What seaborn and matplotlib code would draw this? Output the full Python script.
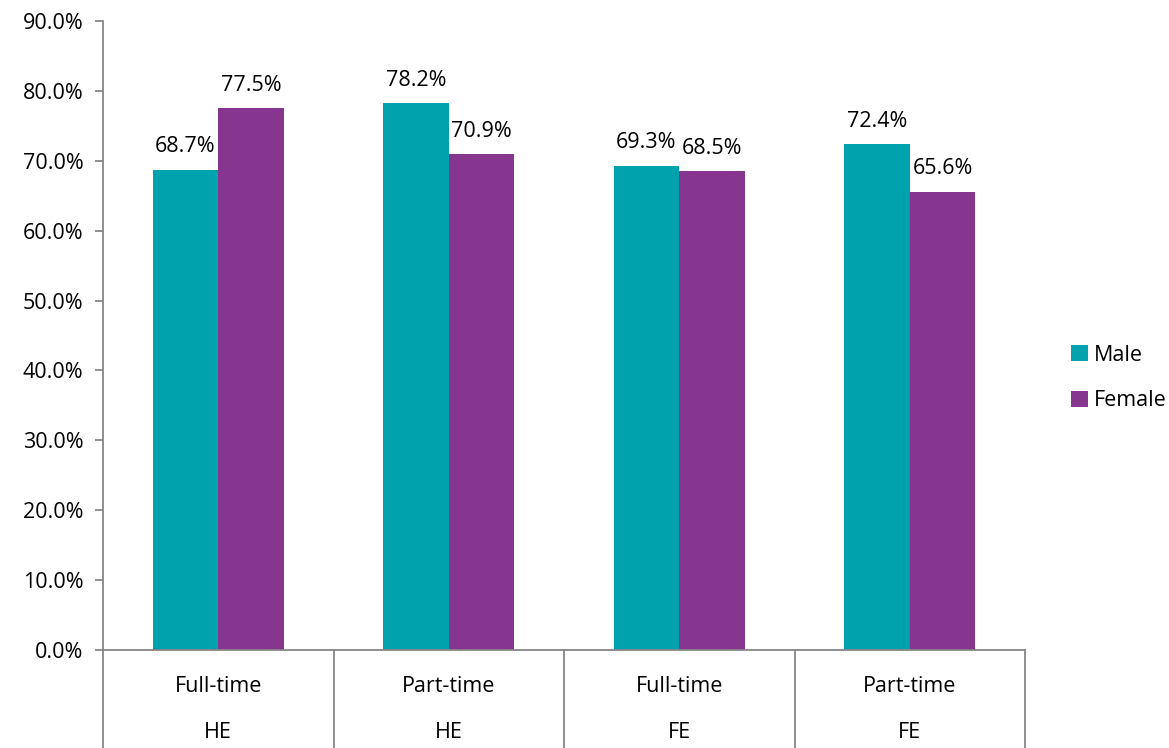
import matplotlib
matplotlib.use("Agg")
import matplotlib.pyplot as plt
import seaborn as sns
import pandas as pd
from matplotlib.patches import Patch
from matplotlib.ticker import FuncFormatter

mode = ["Full-time", "Part-time", "Full-time", "Part-time"]
level = ["HE", "HE", "FE", "FE"]
male = [68.7, 78.2, 69.3, 72.4]
female = [77.5, 70.9, 68.5, 65.6]
series = ["Male", "Female"]
colors = ["#00A3AD", "#87368F"]

keys = [f"{m} {l}" for m, l in zip(mode, level)]
df = pd.DataFrame({
    "cat": keys * 2,
    "value": male + female,
    "sex": ["Male"] * 4 + ["Female"] * 4,
})

sns.set_style("white")
plt.rcParams["font.family"] = ["Open Sans", "DejaVu Sans"]
plt.rcParams["font.size"] = 15
plt.rcParams["text.color"] = "black"
plt.rcParams["xtick.color"] = "black"
plt.rcParams["ytick.color"] = "black"

fig = plt.figure(figsize=(11.69, 7.48), dpi=100)
ax = fig.add_axes([103 / 1169, 1 - 650 / 748, (1025 - 103) / 1169, (650 - 21) / 748])

sns.barplot(data=df, x="cat", y="value", hue="sex", order=keys, hue_order=series,
            palette=colors, width=0.57, saturation=1, ax=ax, legend=False,
            edgecolor="none", linewidth=0)

ax.set_ylim(0, 90)
ax.set_xlim(-0.5, 3.5)
ax.set_yticks(range(0, 91, 10))
ax.yaxis.set_major_formatter(FuncFormatter(lambda v, p: f"{v:.1f}%"))
ax.set_xlabel("")
ax.set_ylabel("")

gray = "#868686"
for s in ["top", "right"]:
    ax.spines[s].set_visible(False)
for s in ["left", "bottom"]:
    ax.spines[s].set_color(gray)
    ax.spines[s].set_linewidth(1.3)
ax.tick_params(axis="y", direction="out", length=6, width=1.3, color=gray,
               labelcolor="black", labelsize=15.5, pad=8, left=True)
ax.tick_params(axis="x", length=0, labelsize=15.5, labelcolor="black", pad=19)
ax.set_xticks(range(4))
ax.set_xticklabels(mode)
ax.spines["left"].set_bounds(0, 90)

# second-level labels and separator lines
axh_px = 650 - 21
for i, l in enumerate(level):
    ax.text(i, -(733 - 650) / axh_px, l, transform=ax.get_xaxis_transform(),
            ha="center", va="center", fontsize=15.5, color="black")
for b in [-0.5, 0.5, 1.5, 2.5, 3.5]:
    ax.plot([b, b], [0, -(748 - 650) / axh_px], transform=ax.get_xaxis_transform(),
            color=gray, lw=1.3, clip_on=False)

for cont in ax.containers:
    for bar in cont:
        h = bar.get_height()
        ax.annotate(f"{h:.1f}%", (bar.get_x() + bar.get_width() / 2, h),
                    xytext=(0, 9), textcoords="offset points",
                    ha="center", va="bottom", fontsize=15.5, color="black")

handles = [Patch(facecolor=c, edgecolor="none") for c in colors]
fig.legend(handles, series, loc="center left", bbox_to_anchor=(1052 / 1169, 1 - 378 / 748),
           frameon=False, fontsize=15.5, handlelength=0.75, handleheight=0.75,
           handletextpad=0.3, labelspacing=1.15, labelcolor="black")

fig.savefig("out.png", dpi=100)
